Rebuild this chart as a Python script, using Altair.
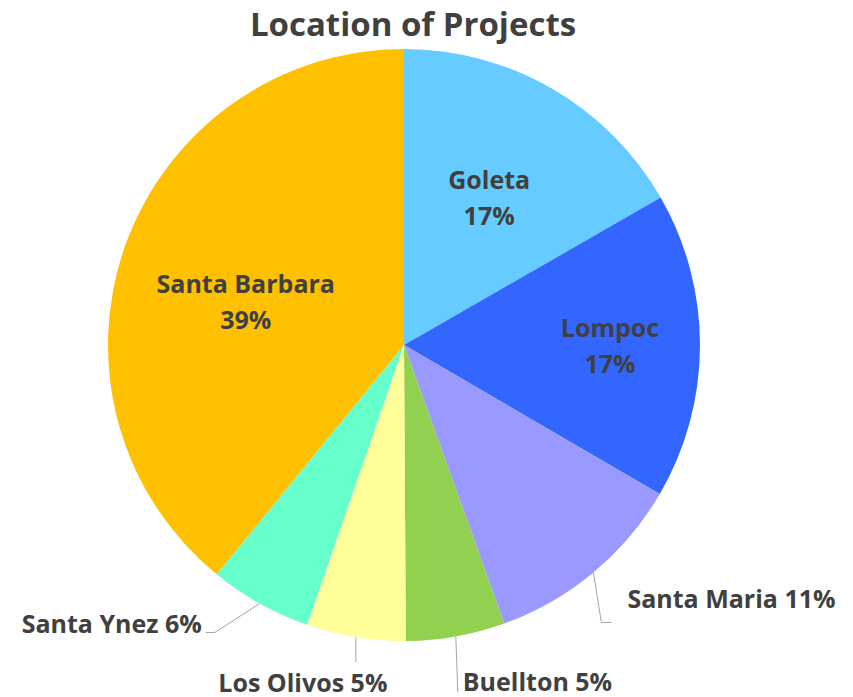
import altair as alt
import pandas as pd
import numpy as np

# ---- data ----
names = ["Goleta", "Lompoc", "Santa Maria", "Buellton", "Los Olivos", "Santa Ynez", "Santa Barbara"]
shares = [16.7, 16.7, 11.1, 5.4, 5.4, 5.6, 39.1]
colors = ["#66CCFF", "#3366FF", "#9999FF", "#92D050", "#FFFF99", "#66FFCC", "#FFC000"]
title_text = "Location of Projects"

# ---- layout ----
W, H = 837, 689
CX, CY = 396, 337
R = 296
FONT = "Open Sans"
TXT = "#404040"
LINE = "#A6A6A6"
FS = 25

# inside labels: (radius, angle shift in degrees)
inside_layout = {"Goleta": (170, 0), "Lompoc": (206, 0), "Santa Barbara": (164, -4.4)}
# outside labels: offsets from the slice's edge midpoint
# (leader points list, text anchor offset, align)
outside_layout = {
    "Santa Maria": ([(0, 0), (8, 50), (18, 50)], (34, 36), "left"),
    "Buellton": ([(0, 0), (2, 56)], (7, 55), "left"),
    "Los Olivos": ([(0, 0), (0, 25)], (-53, 55), "center"),
    "Santa Ynez": ([(0, 0), (-45, 29), (-54, 29)], (-58, 30), "right"),
}

df = pd.DataFrame({"name": names, "share": shares, "order": list(range(len(names)))})
total = df["share"].sum()
df["pct"] = (df["share"] / total * 100).round().astype(int).astype(str) + "%"
cum = df["share"].cumsum()
df["mid"] = (cum - df["share"] / 2) / total * 2 * np.pi

base_arc = alt.Chart(df).mark_arc(outerRadius=R, stroke=None).encode(
    theta=alt.Theta("share:Q", stack=True),
    order=alt.Order("order:Q"),
    color=alt.Color("name:N", scale=alt.Scale(domain=names, range=colors), legend=None),
    x=alt.value(CX),
    y=alt.value(CY),
)

# inside labels
rows_in = []
for _, r in df.iterrows():
    if r["name"] in inside_layout:
        rad, dth = inside_layout[r["name"]]
        a = r["mid"] + np.deg2rad(dth)
        rows_in.append({"name": r["name"], "pct": r["pct"],
                        "x": CX + rad * np.sin(a), "y": CY - rad * np.cos(a)})
din = pd.DataFrame(rows_in)

in_name = alt.Chart(din).mark_text(font=FONT, fontWeight="bold", fontSize=FS, color=TXT,
                                   baseline="alphabetic", align="center", dy=-9).encode(
    x=alt.X("x:Q", scale=None), y=alt.Y("y:Q", scale=None), text="name:N")
in_pct = alt.Chart(din).mark_text(font=FONT, fontWeight="bold", fontSize=FS, color=TXT,
                                  baseline="alphabetic", align="center", dy=27).encode(
    x=alt.X("x:Q", scale=None), y=alt.Y("y:Q", scale=None), text="pct:N")

# outside labels and leaders
rows_line = []
rows_out = []
for _, r in df.iterrows():
    if r["name"] in outside_layout:
        pts, (tx, ty), al = outside_layout[r["name"]]
        ex = CX + R * np.sin(r["mid"])
        ey = CY - R * np.cos(r["mid"])
        for i, (px, py) in enumerate(pts):
            rows_line.append({"name": r["name"], "i": i, "x": ex + px, "y": ey + py})
        rows_out.append({"name": r["name"], "label": f"{r['name']} {r['pct']}",
                         "x": ex + tx, "y": ey + ty, "align": al})
dline = pd.DataFrame(rows_line)
dout = pd.DataFrame(rows_out)

leaders = alt.Chart(dline).mark_line(color=LINE, strokeWidth=1).encode(
    x=alt.X("x:Q", scale=None), y=alt.Y("y:Q", scale=None),
    detail="name:N", order="i:Q")

out_layers = []
for al in ["left", "center", "right"]:
    sub = dout[dout["align"] == al]
    if len(sub):
        out_layers.append(
            alt.Chart(sub).mark_text(font=FONT, fontWeight="bold", fontSize=FS, color=TXT,
                                     baseline="alphabetic", align=al).encode(
                x=alt.X("x:Q", scale=None), y=alt.Y("y:Q", scale=None), text="label:N"))

title = alt.Chart(pd.DataFrame({"t": [title_text]})).mark_text(
    font=FONT, fontWeight="bold", fontSize=33, color=TXT, baseline="alphabetic", align="center"
).encode(x=alt.value(405), y=alt.value(28), text="t:N")

chart = alt.layer(base_arc, leaders, in_name, in_pct, *out_layers, title).properties(
    width=W, height=H, padding=0, autosize="none"
).configure_view(stroke=None)

chart.save("out.html", embed_options={"renderer": "svg", "actions": False})
